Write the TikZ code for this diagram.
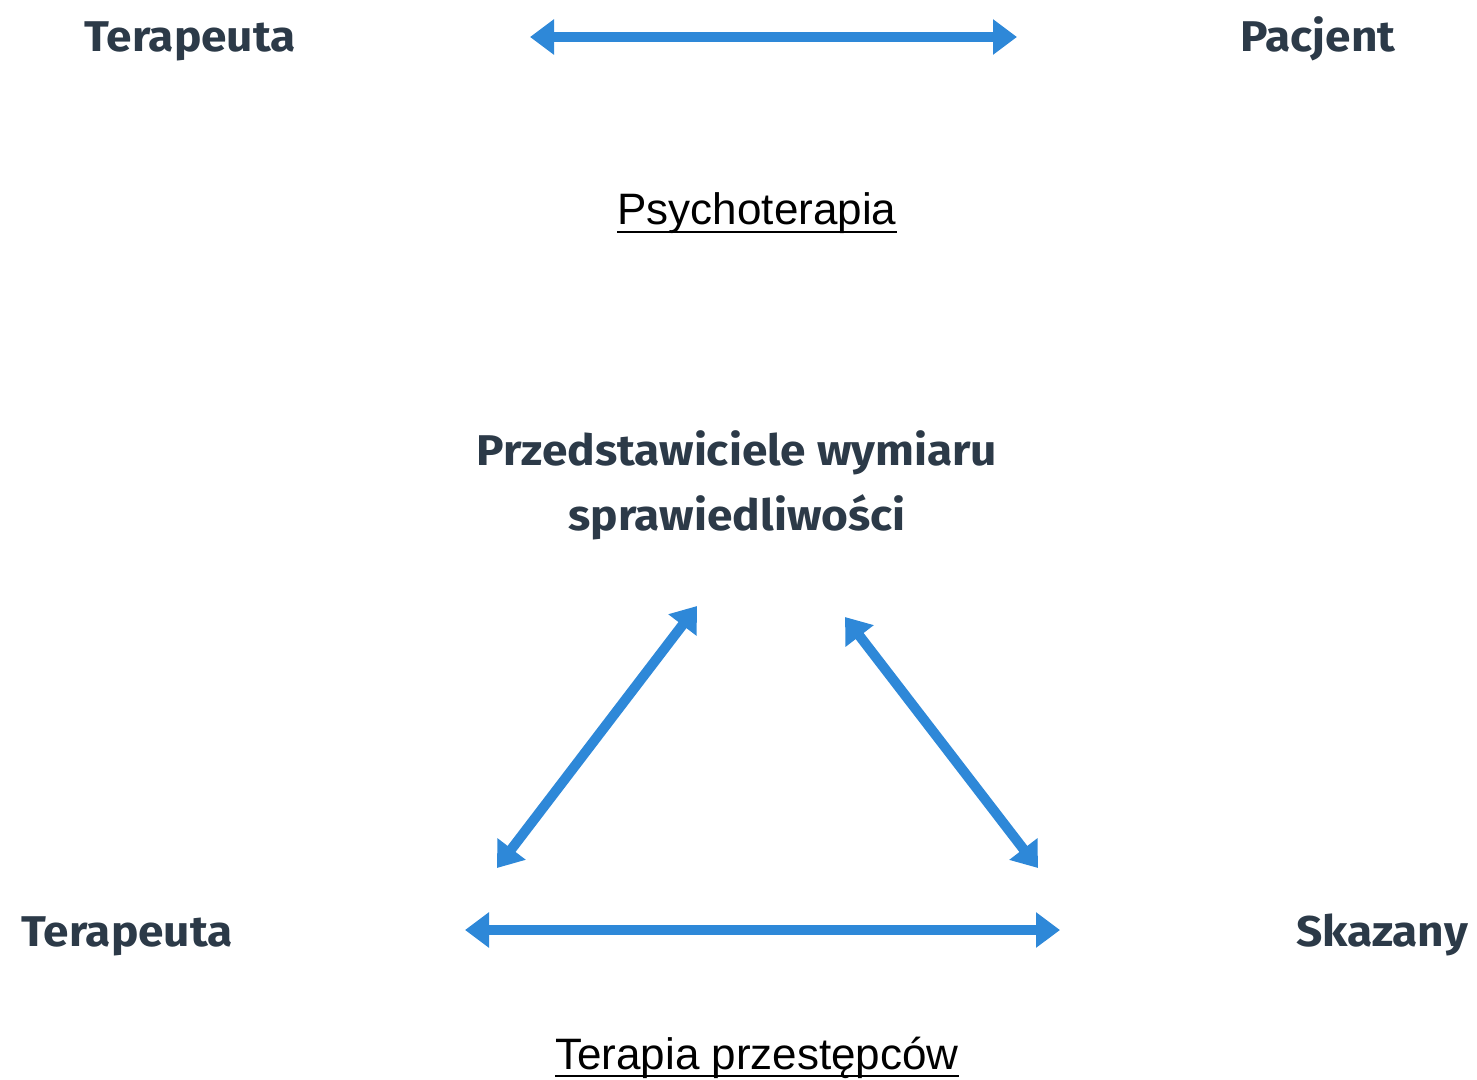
\documentclass[tikz,border=0pt]{standalone}
\usepackage{fontspec}
\setmainfont{Liberation Sans}
\newfontfamily\headfont{Fira Sans}[UprightFont=* Bold, FakeStretch=1.07]
\usetikzlibrary{arrows.meta}
\definecolor{txtdark}{HTML}{2C3A48}
\definecolor{arrblue}{HTML}{2E88D8}
\tikzset{
  heading/.style={font=\headfont\fontsize{43}{52}\selectfont, text=txtdark, inner sep=0pt, anchor=base},
  caption/.style={font=\fontsize{44}{52}\selectfont, text=black, inner sep=0pt, anchor=base},
  uline/.style={draw=black, line width=2.5pt},
  dblarrow/.style={draw=arrblue, line width=10pt, {Triangle[length=24pt,width=34pt]}-{Triangle[length=24pt,width=34pt]}},
}
\begin{document}
\begin{tikzpicture}[x=1pt,y=-1pt]
\useasboundingbox (0,0) rectangle (1477,1079);
% top
\node[heading] (t1) at (190,51) {Terapeuta};
\node[heading] (p1) at (1318,51) {Pacjent};
\coordinate (a1) at (530,37);
\coordinate (b1) at (1017,37);
\draw[dblarrow] (a1) -- (b1);
\node[caption] (psy) at (757,224) {Psychoterapia};
\draw[uline] ([yshift=-8pt]psy.base west) -- ([yshift=-8pt]psy.base east);
% middle
\node[heading, align=center, anchor=base] (prz) at (737,530) {Przedstawiciele wymiaru\\[13pt]sprawiedliwości};
\coordinate (l1) at (497,868);
\coordinate (l2) at (697,606);
\coordinate (r1) at (845,617);
\coordinate (r2) at (1038,868);
\draw[dblarrow] (l1) -- (l2);
\draw[dblarrow] (r1) -- (r2);
% bottom
\node[heading] (t2) at (127,946) {Terapeuta};
\node[heading] (sk) at (1382,946) {Skazany};
\coordinate (a2) at (465,930);
\coordinate (b2) at (1060,930);
\draw[dblarrow] (a2) -- (b2);
\node[caption] (tp) at (757,1069) {Terapia przestępców};
\draw[uline] ([yshift=-7pt]tp.base west) -- ([yshift=-7pt]tp.base east);
\end{tikzpicture}
\end{document}
